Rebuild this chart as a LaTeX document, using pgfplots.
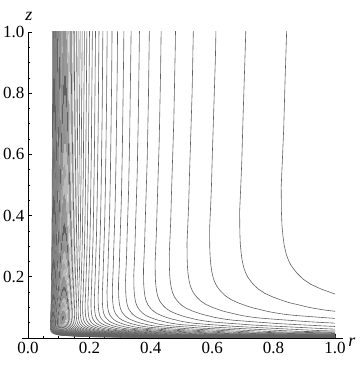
\documentclass[border=0pt]{standalone}
\usepackage{fontspec}
\setmainfont{Liberation Serif}
\usepackage{pgfplots}
\usepackage{pgfplotstable}
\pgfplotsset{compat=1.18}

% shape of one contour line (scaled by 1/level for each contour)
\pgfplotstableread{
X Y
13.6 0.030
10.5 0.0315
8.3 0.0332
6.0 0.036
4.9 0.0392
4.0 0.044
3.3 0.0495
2.8 0.056
2.5 0.0625
2.28 0.073
2.08 0.0832
1.87 0.0935
1.74 0.1005
1.64 0.108
1.53 0.116
1.43 0.124
1.38 0.130
1.33 0.138
1.29 0.146
1.255 0.155
1.22 0.163
1.19 0.172
1.165 0.181
1.14 0.19
1.12 0.199
1.10 0.208
1.085 0.218
1.07 0.228
1.057 0.240
1.045 0.252
1.032 0.268
1.02 0.285
1.011 0.304
1.003 0.325
0.995 0.36
0.99 0.396
0.986 0.44
0.984 0.4915
0.983 0.5886
0.988 0.7
0.993 0.82
0.998 1.0
1.006 1.25
1.0146 1.522
1.025 2.05
1.0395 3.1185
1.058 5.29
1.075 8.6
1.095 15.33
}\shape

\begin{document}
\begin{tikzpicture}
\begin{axis}[
  at={(0,0)}, anchor=south west,
  scale only axis, width=307pt, height=306pt,
  xmin=0, xmax=1, ymin=0, ymax=1,
  axis lines=left,
  axis line style={-, line width=0.7pt},
  x axis line style={shorten >=-8pt, shorten <=-6pt},
  tick align=inside,
  major tick length=4.5pt, minor tick length=2.5pt,
  every tick/.style={black, line width=0.6pt},
  xtick={0,0.2,0.4,0.6,0.8,1}, xticklabels={0.0,0.2,0.4,0.6,0.8,1.0},
  ytick={0.2,0.4,0.6,0.8,1}, yticklabels={0.2,0.4,0.6,0.8,1.0},
  minor xtick={0.05,0.1,0.15,0.25,0.3,0.35,0.45,0.5,0.55,0.65,0.7,0.75,0.85,0.9,0.95},
  minor ytick={0.05,0.1,0.15,0.25,0.3,0.35,0.45,0.5,0.55,0.65,0.7,0.75,0.85,0.9,0.95},
  tick label style={font=\fontsize{17}{19}\selectfont},
  xticklabel style={yshift=-1pt},
  xlabel={\textit{r}},
  xlabel style={at={(axis description cs:1.055,-0.013)}, anchor=center, font=\fontsize{18}{20}\selectfont},
  ylabel={\textit{z}},
  ylabel style={at={(axis description cs:0.003,1.05)}, rotate=-90, anchor=center, font=\fontsize{18}{20}\selectfont},
]
% contour levels
\pgfplotsinvokeforeach{1.192,1.426,1.662,1.898,2.136,2.374,2.613,2.853,3.094,3.335,
  3.577,3.819,4.062,4.305,4.549,4.793,5.037,5.282,5.527,5.773,
  6.019,6.265,6.512,6.758,7.005,7.253,7.500,7.748,7.996,8.245,
  8.493,8.742,8.991,9.241,9.490,9.740,9.990,10.239,10.490,10.741,
  10.991,11.242,11.493,11.744,11.996,12.247,12.499,12.750,13.003,13.254,13.507}{
  \addplot[black!62, line width=0.6pt]
    table[x expr=\thisrow{X}/#1, y expr=\thisrow{Y}/#1] {\shape};
}
\end{axis}
\pgfresetboundingbox
\path[use as bounding box] (-28pt,-31pt) rectangle (332pt,338pt);
\end{tikzpicture}
\end{document}
